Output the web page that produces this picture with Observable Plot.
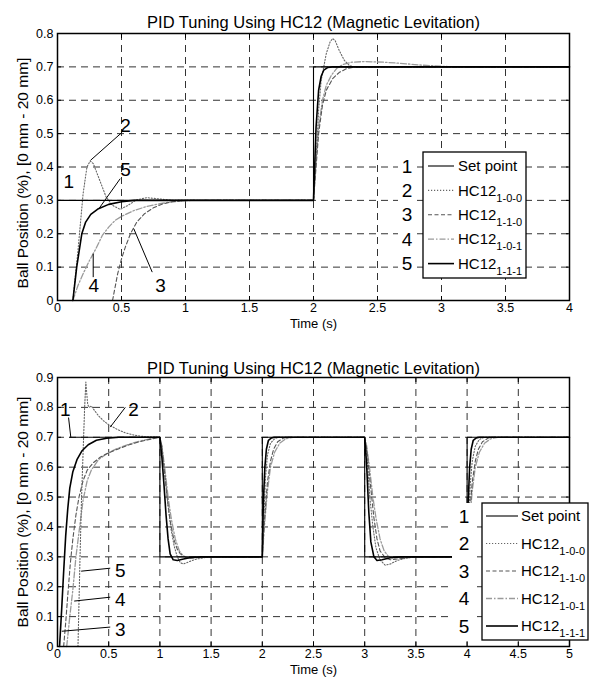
<!DOCTYPE html>
<html><head><meta charset="utf-8">
<script src="https://cdn.jsdelivr.net/npm/d3@7"></script>
<script src="https://cdn.jsdelivr.net/npm/@observablehq/plot@0.6"></script>
<style>body{margin:0;background:#fff} svg{display:block}</style>
</head><body><div id="chart"></div>
<script>
// ---------- text ----------
const TITLE = "PID Tuning Using HC12 (Magnetic Levitation)";
const YLABEL = "Ball Position (%), [0 mm - 20 mm]";
const XLABEL = "Time (s)";
const legendNums = ["1", "2", "3", "4", "5"];
const legendMain = ["Set point", "HC12", "HC12", "HC12", "HC12"];
const legendSub = ["", "1-0-0", "1-1-0", "1-0-1", "1-1-1"];
const seriesKeys = ["sp", "p", "pi", "pd", "pid"];

// ---------- ticks ----------
const topXTicks = [0, 0.5, 1, 1.5, 2, 2.5, 3, 3.5, 4];
const topYTicks = [0, 0.1, 0.2, 0.3, 0.4, 0.5, 0.6, 0.7, 0.8];
const botXTicks = [0, 0.5, 1, 1.5, 2, 2.5, 3, 3.5, 4, 4.5, 5];
const botYTicks = [0, 0.1, 0.2, 0.3, 0.4, 0.5, 0.6, 0.7, 0.8, 0.9];

// ---------- top chart data [t, y] ----------
const top_sp = [[0,0.3],[2,0.3],[2,0.7],[4,0.7]];
const top_p = [[0.12,0],[0.16,0.15],[0.2,0.32],[0.23,0.4],[0.255,0.418],[0.28,0.41],[0.33,0.36],[0.38,0.31],[0.43,0.285],[0.49,0.273],[0.55,0.285],[0.62,0.302],[0.7,0.308],[0.78,0.305],[0.9,0.3],[2,0.3],[2.02,0.42],[2.04,0.57],[2.06,0.66],[2.08,0.7],[2.1,0.74],[2.13,0.775],[2.15,0.785],[2.17,0.778],[2.2,0.75],[2.24,0.72],[2.28,0.704],[2.34,0.698],[2.45,0.699],[2.6,0.7],[4,0.7]];
const top_pi = [[0.43,0],[0.45,0.04],[0.47,0.08],[0.5,0.125],[0.53,0.16],[0.57,0.2],[0.62,0.235],[0.68,0.26],[0.75,0.278],[0.82,0.289],[0.9,0.296],[1.0,0.3],[2,0.3],[2.02,0.4],[2.04,0.5],[2.07,0.585],[2.1,0.63],[2.15,0.665],[2.2,0.683],[2.26,0.695],[2.33,0.7],[4,0.7]];
const top_pd = [[0.12,0],[0.16,0.045],[0.2,0.08],[0.25,0.12],[0.3,0.155],[0.35,0.195],[0.4,0.22],[0.45,0.24],[0.5,0.252],[0.6,0.27],[0.7,0.282],[0.8,0.29],[0.9,0.296],[1.05,0.3],[2,0.3],[2.02,0.42],[2.04,0.52],[2.07,0.6],[2.1,0.645],[2.14,0.675],[2.18,0.695],[2.23,0.707],[2.3,0.714],[2.4,0.716],[2.55,0.714],[2.7,0.71],[2.85,0.705],[3.05,0.701],[4,0.7]];
const top_pid = [[0.12,0],[0.135,0.05],[0.15,0.1],[0.17,0.15],[0.19,0.2],[0.22,0.235],[0.26,0.258],[0.32,0.275],[0.4,0.288],[0.5,0.296],[0.6,0.3],[2,0.3],[2.02,0.52],[2.04,0.63],[2.06,0.672],[2.08,0.69],[2.11,0.698],[2.15,0.7],[4,0.7]];

// ---------- bottom chart data [t, y] ----------
const bot_sp = [[0.12,0.7],[1,0.7],[1,0.3],[2,0.3],[2,0.7],[3,0.7],[3,0.3],[4,0.3],[4,0.7],[5,0.7],[5,0.3]];
const bot_p = [[0.2,0],[0.21,0.15],[0.22,0.3],[0.235,0.5],[0.25,0.65],[0.265,0.8],[0.277,0.885],[0.285,0.85],[0.295,0.81],[0.31,0.8],[0.33,0.805],[0.35,0.795],[0.4,0.772],[0.45,0.755],[0.5,0.742],[0.58,0.727],[0.66,0.715],[0.75,0.707],[0.85,0.702],[1,0.7],[1.02,0.67],[1.05,0.57],[1.08,0.47],[1.11,0.39],[1.14,0.335],[1.17,0.3],[1.2,0.28],[1.23,0.276],[1.28,0.283],[1.35,0.292],[1.45,0.298],[1.6,0.3],[2,0.3],[2.015,0.42],[2.03,0.56],[2.05,0.64],[2.08,0.68],[2.12,0.695],[2.16,0.7],[3,0.7],[3.02,0.65],[3.05,0.5],[3.08,0.4],[3.11,0.33],[3.15,0.29],[3.2,0.272],[3.25,0.276],[3.32,0.288],[3.42,0.297],[3.55,0.3],[4,0.3],[4.015,0.42],[4.03,0.54],[4.05,0.62],[4.08,0.67],[4.12,0.693],[4.17,0.7],[5,0.7]];
const bot_pi = [[0.06,0],[0.08,0.08],[0.1,0.17],[0.125,0.277],[0.15,0.36],[0.18,0.44],[0.21,0.5],[0.25,0.555],[0.29,0.59],[0.35,0.615],[0.42,0.634],[0.5,0.648],[0.6,0.662],[0.7,0.675],[0.8,0.685],[0.9,0.693],[1,0.7],[1.02,0.66],[1.04,0.6],[1.07,0.5],[1.1,0.42],[1.135,0.36],[1.17,0.325],[1.2,0.31],[1.25,0.298],[1.3,0.295],[1.38,0.298],[1.46,0.3],[2,0.3],[2.02,0.42],[2.05,0.55],[2.08,0.62],[2.11,0.66],[2.15,0.685],[2.21,0.698],[2.26,0.7],[3,0.7],[3.02,0.66],[3.05,0.56],[3.09,0.43],[3.12,0.36],[3.15,0.32],[3.2,0.297],[3.25,0.29],[3.3,0.292],[3.4,0.296],[3.5,0.3],[4,0.3],[4.02,0.42],[4.05,0.55],[4.08,0.62],[4.11,0.66],[4.15,0.685],[4.21,0.698],[4.26,0.7],[5,0.7]];
const bot_pd = [[0.09,0],[0.12,0.1],[0.15,0.19],[0.18,0.3],[0.22,0.41],[0.25,0.49],[0.29,0.555],[0.33,0.59],[0.4,0.625],[0.48,0.645],[0.58,0.662],[0.7,0.677],[0.8,0.687],[0.9,0.695],[1,0.7],[1.02,0.67],[1.05,0.59],[1.08,0.5],[1.11,0.43],[1.15,0.36],[1.19,0.32],[1.23,0.302],[1.28,0.296],[1.35,0.298],[1.45,0.3],[2,0.3],[2.02,0.4],[2.05,0.52],[2.08,0.6],[2.12,0.65],[2.17,0.68],[2.23,0.695],[2.3,0.7],[3,0.7],[3.02,0.67],[3.05,0.59],[3.08,0.5],[3.11,0.43],[3.15,0.36],[3.19,0.32],[3.23,0.302],[3.28,0.296],[3.35,0.298],[3.45,0.3],[4,0.3],[4.02,0.4],[4.05,0.52],[4.08,0.6],[4.12,0.65],[4.17,0.68],[4.23,0.695],[4.3,0.7],[5,0.7]];
const bot_pid = [[0.02,0],[0.04,0.12],[0.06,0.25],[0.08,0.37],[0.1,0.46],[0.12,0.53],[0.15,0.585],[0.19,0.625],[0.24,0.655],[0.3,0.675],[0.38,0.69],[0.48,0.697],[0.6,0.7],[1,0.7],[1.02,0.63],[1.04,0.54],[1.06,0.44],[1.08,0.36],[1.1,0.31],[1.13,0.29],[1.17,0.288],[1.22,0.292],[1.3,0.298],[1.4,0.3],[2,0.3],[2.01,0.48],[2.025,0.6],[2.04,0.66],[2.06,0.69],[2.09,0.698],[2.12,0.7],[3,0.7],[3.02,0.6],[3.04,0.45],[3.06,0.35],[3.09,0.3],[3.12,0.288],[3.17,0.29],[3.25,0.297],[3.35,0.3],[4,0.3],[4.01,0.48],[4.025,0.6],[4.04,0.66],[4.06,0.69],[4.09,0.698],[4.12,0.7],[5,0.7]];

// ---------- annotations (number labels + leader lines) ----------
const topAnnText = ["1", "2", "5", "4", "3"];
const topAnnAt = [[0.089,0.355],[0.531,0.524],[0.531,0.39],[0.284,0.045],[0.805,0.045]];
const topLeaders = [[0.505,0.504,0.258,0.42],[0.49,0.365,0.323,0.275],[0.279,0.07,0.279,0.14],[0.74,0.085,0.596,0.215]];
const botAnnText = ["1", "2", "5", "4", "3"];
const botAnnAt = [[0.075,0.79],[0.743,0.79],[0.613,0.254],[0.613,0.156],[0.613,0.056]];
const botLeaders = [[0.108,0.766,0.13,0.70],[0.662,0.8,0.515,0.734],[0.515,0.262,0.231,0.252],[0.515,0.165,0.163,0.152],[0.515,0.065,0.042,0.051]];

// ---------- styles ----------
const FONT = "'Liberation Sans', Arial, Helvetica, sans-serif";
const STYLE = {
  sp:  {stroke: "#000", strokeWidth: 1.1, dash: null},
  p:   {stroke: "#666", strokeWidth: 1.1, dash: "1.2,1.8"},
  pi:  {stroke: "#555", strokeWidth: 1.1, dash: "4,2.5"},
  pd:  {stroke: "#9a9a9a", strokeWidth: 1.3, dash: "6,2,1.5,2"},
  pid: {stroke: "#000", strokeWidth: 1.6, dash: null}
};
const fmt = d3.format("~g");

function seriesMarks(dataMap) {
  const order = ["pd", "pi", "p", "sp", "pid"];
  return order.map(k => Plot.line(dataMap[k], {
    x: d => d[0], y: d => d[1],
    stroke: STYLE[k].stroke, strokeWidth: STYLE[k].strokeWidth,
    strokeDasharray: STYLE[k].dash, curve: "linear"
  }));
}

function makeChart(cfg) {
  return Plot.plot({
    width: 600, height: cfg.height,
    marginLeft: 57, marginRight: 31, marginTop: cfg.marginTop, marginBottom: cfg.marginBottom,
    style: {background: "transparent", fontFamily: FONT, overflow: "visible"},
    x: {domain: cfg.xDomain},
    y: {domain: cfg.yDomain},
    marks: [
      Plot.gridX(cfg.xTicks, {stroke: "#333", strokeOpacity: 1, strokeWidth: 1, strokeDasharray: "7,5"}),
      Plot.gridY(cfg.yTicks, {stroke: "#333", strokeOpacity: 1, strokeWidth: 1, strokeDasharray: "7,5"}),
      ...seriesMarks(cfg.data),
      Plot.link(cfg.leaders, {x1: d => d[0], y1: d => d[1], x2: d => d[2], y2: d => d[3], stroke: "#000", strokeWidth: 1}),
      Plot.text(cfg.annText, {x: (d, i) => cfg.annAt[i][0], y: (d, i) => cfg.annAt[i][1], text: d => d, fontSize: 19, fill: "#000"}),
      Plot.frame({stroke: "#000", strokeWidth: 1.5}),
      Plot.axisX(cfg.xTicks, {anchor: "bottom", tickSize: -4, tickFormat: () => "", label: null}),
      Plot.axisX(cfg.xTicks, {anchor: "top", tickSize: -4, tickFormat: () => "", label: null}),
      Plot.axisY(cfg.yTicks, {anchor: "left", tickSize: -4, tickFormat: () => "", label: null}),
      Plot.axisY(cfg.yTicks, {anchor: "right", tickSize: -4, tickFormat: () => "", label: null}),
      Plot.axisX(cfg.xTicks, {anchor: "bottom", tickSize: 0, tickPadding: 3, tickFormat: fmt, fontSize: 12.5, label: null}),
      Plot.axisY(cfg.yTicks, {anchor: "left", tickSize: 0, tickPadding: 4, tickFormat: fmt, fontSize: 12.5, label: null}),
      Plot.text([TITLE], {frameAnchor: "top", dy: cfg.titleDy, fontSize: 16.5}),
      Plot.text([XLABEL], {frameAnchor: "bottom", dy: cfg.xlabDy, fontSize: 13}),
      Plot.text([YLABEL], {frameAnchor: "left", dx: -34, dy: cfg.ylabDy, rotate: -90, textAnchor: "middle", fontSize: 15.5})
    ]
  });
}

function addLegend(svg, L) {
  const g = d3.select(svg).append("g").attr("font-family", FONT).attr("text-anchor", "start");
  g.append("rect").attr("x", L.numX - L.numW / 2).attr("y", L.y0).attr("width", L.numW).attr("height", L.h).attr("fill", "white");
  g.append("rect").attr("x", L.x0).attr("y", L.y0).attr("width", L.w).attr("height", L.h)
    .attr("fill", "white").attr("stroke", "black").attr("stroke-width", 1.3);
  legendNums.forEach((n, i) => {
    const y = L.row0 + i * L.rowH;
    const k = seriesKeys[i];
    g.append("text").attr("x", L.numX).attr("y", y).attr("dy", "0.35em")
      .attr("text-anchor", "middle").attr("font-size", 19).text(n);
    g.append("line").attr("x1", L.lx1).attr("x2", L.lx2).attr("y1", y).attr("y2", y)
      .attr("stroke", STYLE[k].stroke).attr("stroke-width", STYLE[k].strokeWidth)
      .attr("stroke-dasharray", STYLE[k].dash);
    const t = g.append("text").attr("x", L.tx).attr("y", y).attr("dy", "0.35em")
      .attr("text-anchor", "start").attr("font-size", 15);
    t.append("tspan").text(legendMain[i]);
    if (legendSub[i]) t.append("tspan").attr("font-size", 11).attr("dy", 6).text(legendSub[i]);
  });
}

const chartTop = makeChart({
  height: 330, marginTop: 33, marginBottom: 30,
  xDomain: [0, 4], yDomain: [0, 0.8], xTicks: topXTicks, yTicks: topYTicks,
  data: {sp: top_sp, p: top_p, pi: top_pi, pd: top_pd, pid: top_pid},
  leaders: topLeaders, annText: topAnnText, annAt: topAnnAt,
  titleDy: -17, xlabDy: 27, ylabDy: 6
});
addLegend(chartTop, {x0: 423, y0: 152, w: 103, h: 126, numX: 407, numW: 18, row0: 166, rowH: 24.4, lx1: 428, lx2: 454, tx: 458});

const chartBot = makeChart({
  height: 350, marginTop: 47, marginBottom: 34,
  xDomain: [0, 5], yDomain: [0, 0.9], xTicks: botXTicks, yTicks: botYTicks,
  data: {sp: bot_sp, p: bot_p, pi: bot_pi, pd: bot_pd, pid: bot_pid},
  leaders: botLeaders, annText: botAnnText, annAt: botAnnAt,
  titleDy: -15, xlabDy: 27, ylabDy: 0
});
addLegend(chartBot, {x0: 482, y0: 173, w: 106, h: 137, numX: 464, numW: 24, row0: 186, rowH: 27.5, lx1: 486, lx2: 518, tx: 521});

document.getElementById("chart").append(chartTop, chartBot);
</script></body></html>
